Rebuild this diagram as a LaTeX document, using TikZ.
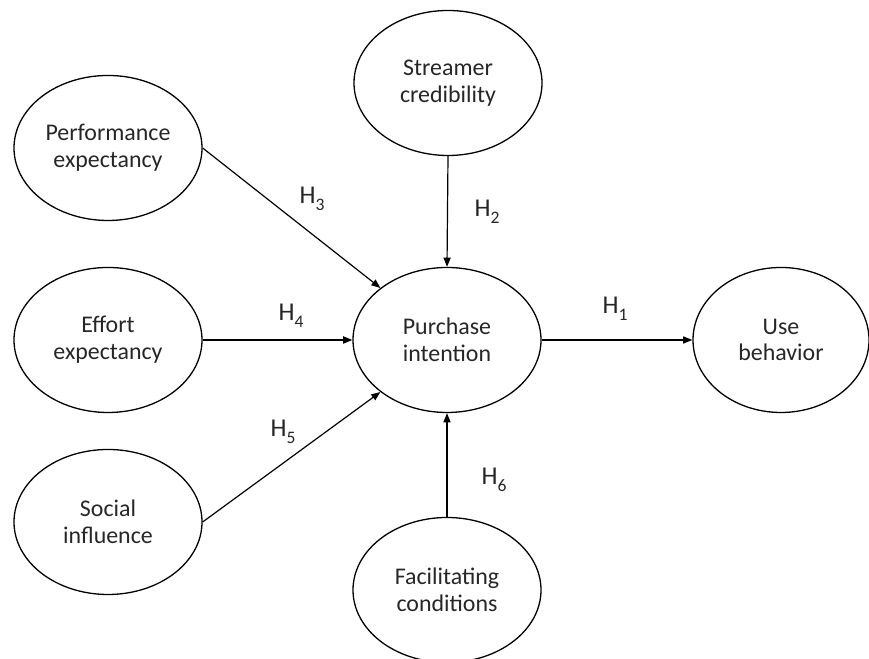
\documentclass[tikz,border=0pt]{standalone}
\usepackage{fontspec}
\setmainfont{Carlito}
\usepackage{tikz}
\usetikzlibrary{shapes.geometric,arrows.meta}

\newcommand{\hyp}[1]{H\raisebox{-1.8pt}{\fontsize{5}{5}\selectfont #1}}

\begin{document}
\begin{tikzpicture}[ovalnode/.style={ellipse, draw=black, line width=0.37pt, inner sep=0pt, minimum width=1.88cm, minimum height=1.45cm, align=center, text=black!85, font=\fontsize{6.8}{7.6}\selectfont}]
            \useasboundingbox (0,0) rectangle (8.69,6.59);
            \node[ovalnode] (SC) at (4.48,5.76) {Streamer\\credibility};
            \node[ovalnode] (PE) at (1.08,5.11) {Performance\\expectancy};
            \node[ovalnode] (EE) at (1.08,3.19) {Effort\\expectancy};
            \node[ovalnode] (SI) at (1.08,1.37) {Social\\influence};
            \node[ovalnode] (PI) at (4.47,3.19) {Purchase\\intention};
            \node[ovalnode, minimum width=1.76cm] (UB) at (7.81,3.19) {Use\\behavior};
            \node[ovalnode] (FC) at (4.47,0.69) {Facilitating\\conditions};

            \tikzset{arrow/.style={-{Triangle[length=2.6pt,width=2pt]}, line width=0.34pt}}
            \tikzset{hlabel/.style={anchor=base west, inner sep=0pt, text=black!85, font=\fontsize{7.3}{8}\selectfont}}

            \node[hlabel] (H1) at (6.02,3.45) {\hyp{1}};
            \node[hlabel] (H2) at (4.74,4.42) {\hyp{2}};
            \node[hlabel] (H3) at (2.99,4.55) {\hyp{3}};
            \node[hlabel] (H4) at (2.78,3.38) {\hyp{4}};
            \node[hlabel] (H5) at (2.70,2.22) {\hyp{5}};
            \node[hlabel] (H6) at (4.81,1.74) {\hyp{6}};

            \draw[arrow] (PI.east) -- (UB.west);
            \draw[arrow] (SC.south) -- (PI.north);
            \draw[arrow] (PE.east) -- (PI.142);
            \draw[arrow, line width=0.45pt] (EE.east) -- (PI.west);
            \draw[arrow] (SI.east) -- (PI.218);
            \draw[arrow] (FC.north) -- (PI.south);

        \end{tikzpicture}
\end{document}
